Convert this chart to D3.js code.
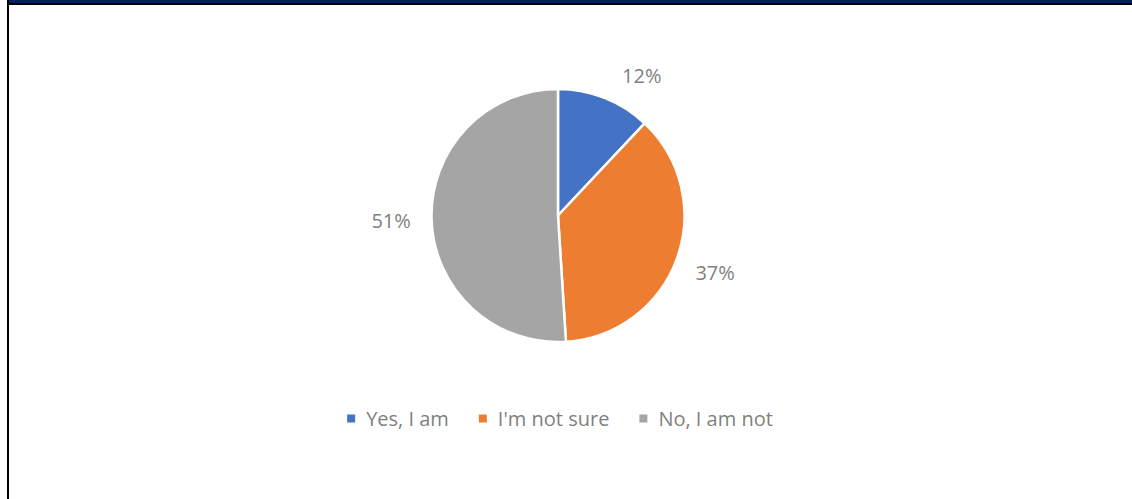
<!DOCTYPE html>
<html>
<head>
<meta charset="utf-8">
<script src="https://cdn.jsdelivr.net/npm/d3@7/dist/d3.min.js"></script>
<style>
  html, body { margin: 0; padding: 0; background: #fff; }
  svg { display: block; }
  text { font-family: "Open Sans", "Segoe UI", sans-serif; fill: #7f7f7f; }
</style>
</head>
<body>
<svg id="chart" width="1132" height="499"></svg>
<script>
// Chart data
const categories = ['Yes, I am', "I'm not sure", 'No, I am not'];
const shares = [12, 37, 51];
const labels = ['12%', '37%', '51%'];
const colors = ['#4472c4', '#ed7d31', '#a5a5a5'];

const width = 1132;
const height = 499;
const cx = 558;
const cy = 215.5;
const radius = 126.5;
const labelRadius = 167;

const svg = d3.select('#chart');

// Frame: navy band with black rule on top, black rule on the left
svg.append('rect')
  .attr('x', 9).attr('y', 0)
  .attr('width', width - 9).attr('height', 3)
  .attr('fill', '#002060');
svg.append('rect')
  .attr('x', 9).attr('y', 3)
  .attr('width', width - 9).attr('height', 2)
  .attr('fill', '#000');
svg.append('rect')
  .attr('x', 7).attr('y', 0)
  .attr('width', 2).attr('height', height)
  .attr('fill', '#000');

const data = categories.map((name, i) => ({ name, value: shares[i], label: labels[i], color: colors[i] }));

const pie = d3.pie()
  .value(d => d.value)
  .sort(null);

const arcs = pie(data);

const arc = d3.arc()
  .innerRadius(0)
  .outerRadius(radius);

const g = svg.append('g')
  .attr('transform', `translate(${cx},${cy})`);

g.selectAll('path')
  .data(arcs)
  .enter()
    .append('path')
    .attr('d', arc)
    .attr('fill', d => d.data.color)
    .attr('stroke', '#fff')
    .attr('stroke-width', 2.5)
    .attr('stroke-linejoin', 'round');

// Excel "best fit" pushes the small first label further round the circle
const labelShift = i => (i === 0 ? 9.3 * Math.PI / 180 : 0);

g.selectAll('text.label')
  .data(arcs)
  .enter()
    .append('text')
    .attr('class', 'label')
    .attr('text-anchor', 'middle')
    .attr('dominant-baseline', 'central')
    .attr('font-size', 20)
    .attr('transform', (d, i) => {
      const a = (d.startAngle + d.endAngle) / 2 + labelShift(i);
      const r = i === 0 ? 163 : labelRadius;
      return `translate(${r * Math.sin(a)},${-r * Math.cos(a)})`;
    })
    .text(d => d.data.label);

// Legend
const legend = svg.append('g');
const items = legend.selectAll('g')
  .data(data)
  .enter()
    .append('g');

items.append('rect')
  .attr('width', 8).attr('height', 8)
  .attr('y', -4)
  .attr('fill', d => d.color);

items.append('text')
  .attr('x', 19)
  .attr('y', 7)
  .attr('font-size', 20)
  .text(d => d.name);

let offset = 0;
items.each(function () {
  const w = this.getBBox().width;
  d3.select(this).attr('transform', `translate(${offset},0)`);
  offset += w + 30;
});
const legendWidth = offset - 30;
legend.attr('transform', `translate(${560 - legendWidth / 2},418.5)`);
</script>
</body>
</html>
